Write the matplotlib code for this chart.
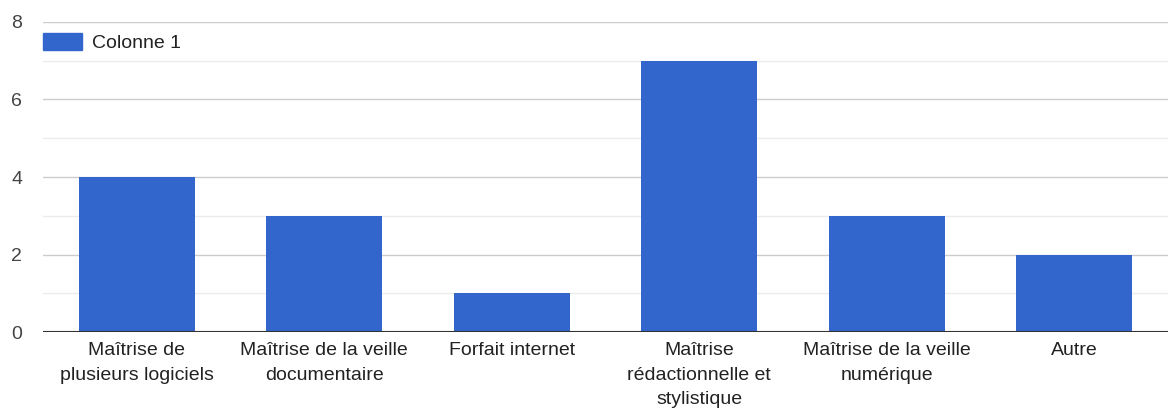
import matplotlib.pyplot as plt
from matplotlib.patches import Patch

categories = [
    "Maîtrise de\nplusieurs logiciels",
    "Maîtrise de la veille\ndocumentaire",
    "Forfait internet",
    "Maîtrise\nrédactionnelle et\nstylistique",
    "Maîtrise de la veille\nnumérique",
    "Autre",
]
values = [4, 3, 1, 7, 3, 2]
series_name = "Colonne 1"

plt.rcParams["font.family"] = ["Liberation Sans", "DejaVu Sans"]

fig = plt.figure(figsize=(11.68, 4.11), dpi=100)
ax = fig.add_axes([43 / 1168, 1 - 332 / 411, 1 - 43 / 1168, (332 - 22) / 411])

x = [i + 0.5 for i in range(len(categories))]
ax.bar(x, values, width=0.62, color="#3366cc", zorder=3)

ax.set_xlim(0, len(categories))
ax.set_ylim(0, 8)
ax.set_yticks([0, 2, 4, 6, 8])
ax.set_yticks([1, 3, 5, 7], minor=True)
ax.grid(axis="y", which="major", color="#cccccc", linewidth=1, zorder=0)
ax.grid(axis="y", which="minor", color="#ebebeb", linewidth=1, zorder=0)
ax.axhline(0, color="#333333", linewidth=1.5, zorder=4)

ax.set_xticks(x)
ax.set_xticklabels(categories, fontsize=14, color="#222222", linespacing=1.6, va="top")
ax.tick_params(axis="x", length=0, pad=7)
ax.tick_params(axis="y", which="both", length=0, pad=15, labelsize=14, labelcolor="#444444")
for s in ax.spines.values():
    s.set_visible(False)

handle = Patch(facecolor="#3366cc", edgecolor="#3366cc")
ax.legend([handle], [series_name], loc="upper left", bbox_to_anchor=(0, 0.965),
          frameon=False, fontsize=14, handlelength=2.0, handleheight=1.0,
          handletextpad=0.5, borderaxespad=0, borderpad=0, labelcolor="#222222")

fig.savefig("out.png", dpi=100)
